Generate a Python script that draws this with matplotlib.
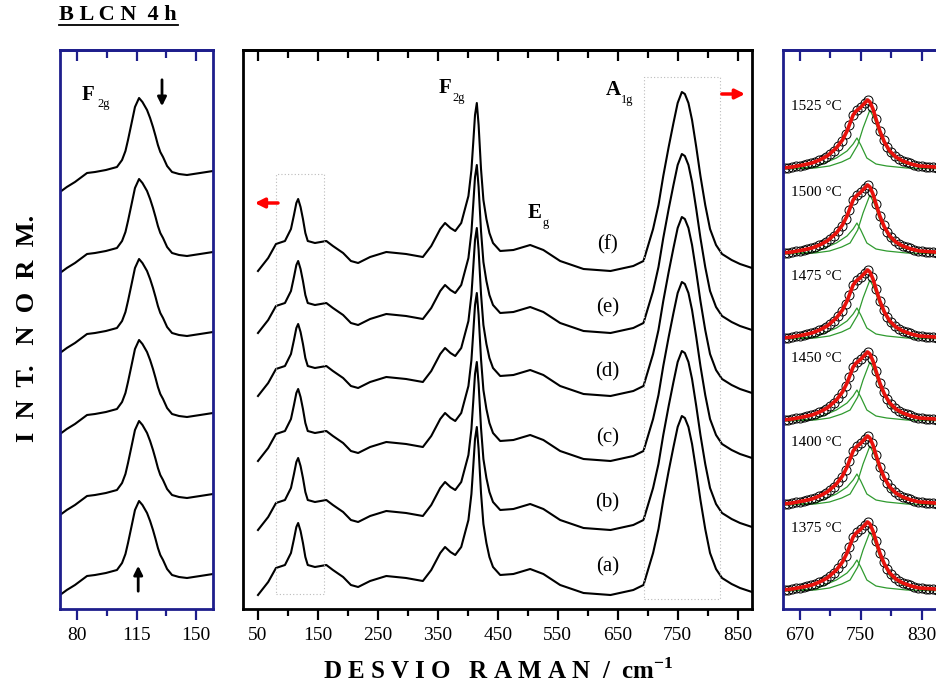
import matplotlib
matplotlib.use('Agg')
import matplotlib.pyplot as plt
from matplotlib.lines import Line2D
import numpy as np

plt.rcParams['font.family'] = 'Liberation Serif'
plt.rcParams['mathtext.fontset'] = 'custom'
plt.rcParams['mathtext.rm'] = 'Liberation Serif'
plt.rcParams['mathtext.bf'] = 'Liberation Serif:bold'

NAVY = '#1e1e8c'

# ---- data (heights in arbitrary normalized units) ----
# middle panel: one spectrum profile, stacked with offsets (a)..(f)
mid_shift = [50, 67, 80, 95, 105, 110, 114, 117, 121, 125, 129, 133, 145, 164, 175,
             192, 205, 217, 237, 264, 297, 325, 339, 354, 362, 371, 379, 389, 401,
             406, 409, 412, 415, 418, 422, 426, 431, 436, 442, 454, 476, 504, 526,
             554, 593, 638, 676, 693, 709, 718, 726, 735, 743, 750, 757, 762, 768,
             774, 781, 788, 796, 804, 814, 824, 840, 854, 874]
mid_int = [14, 27, 41, 44, 56, 70, 82, 86, 78, 66, 52, 44, 42, 44, 39,
           32, 24, 22, 28, 33, 31, 28, 39, 56, 62, 57, 54, 62, 89,
           115, 142, 170, 182, 160, 116, 85, 66, 52, 42, 34, 35, 40, 35,
           24, 16, 14, 19, 24, 56, 80, 109, 138, 162, 182, 193, 191, 182,
           165, 138, 109, 80, 56, 40, 31, 25, 21, 17]
mid_offsets = [0, 65, 134, 199, 262, 324]
mid_labels = ['(a)', '(b)', '(c)', '(d)', '(e)', '(f)']
mid_label_h = [42, 106, 171, 237, 301, 364]

# left panel: F2g region zoom
left_shift = [70, 74, 78.8, 85.9, 90.6, 97, 103.5, 106.5, 108.5, 110, 112, 114.1,
              116.5, 118.5, 121.2, 123, 124.7, 126.2, 127.6, 129, 130.6, 133, 135.9,
              140, 144.7, 152.4, 160]
left_int = [14, 19, 24, 33, 34, 36, 39, 46, 55, 66, 82, 99,
            108, 104, 96, 88, 79, 70, 61, 54, 49, 40, 34,
            32, 31, 33, 35]
left_offsets = [0, 80, 161, 242, 322, 403]

# right panel: A1g fits at each temperature
temps = ['1375 °C', '1400 °C', '1450 °C', '1475 °C', '1500 °C', '1525 °C']
right_offsets = [0, 86, 170, 252, 337, 422]
fit_shift = [648, 660, 674, 686, 696, 706, 718, 726, 732, 737, 740, 744, 749, 754,
             759, 762, 766, 770, 775, 781, 788, 796, 805, 816, 827, 847, 860]
fit_int = [19, 20, 22, 24, 27, 31, 39, 47, 56, 66, 72, 76, 79, 83,
           87, 85, 78, 68, 56, 45, 36, 30, 26, 23, 21, 20, 19]
comp1_shift = [648, 690, 718, 732, 740, 745, 750, 758, 770, 784, 810, 860]
comp1_int = [18, 20, 29, 36, 43, 49, 42, 29, 23, 21, 19, 18]
comp2_shift = [648, 690, 709, 725, 736, 746, 753, 762, 768, 775, 788, 805, 830, 860]
comp2_int = [18, 19, 21, 25, 29, 42, 59, 77, 68, 52, 33, 24, 20, 19]
pts_shift = [650, 655, 660, 665, 670, 675, 680, 685, 690, 695, 700, 705, 710, 715,
             720, 725, 730, 735, 740, 745, 750, 755, 760, 765, 770, 775, 780, 785,
             790, 795, 800, 805, 810, 815, 820, 825, 830, 835, 840, 845, 850, 855, 860]
pts_int = [19, 19.5, 20, 21, 21.5, 22, 23, 24, 25, 27, 28, 30, 33, 36,
           41, 46, 53, 62, 72, 77, 80, 84, 87, 80, 68, 56, 47, 40,
           35, 31, 28, 26, 25, 24, 22, 21.5, 21, 20.5, 20, 20, 19.5, 19, 19]

fig = plt.figure(figsize=(9.36, 6.88), dpi=100)
W, H = 936, 688


def add_panel(x0, x1, color, xlim, major, minor):
    ax = fig.add_axes([x0 / W, (H - 609) / H, (x1 - x0) / W, 559 / H])
    ax.set_xlim(xlim)
    ax.set_ylim(0, 559)
    ax.set_yticks([])
    for s in ax.spines.values():
        s.set_color(color)
        s.set_linewidth(2.0)
    ax.set_xticks(major)
    ax.set_xticks(minor, minor=True)
    ax.set_xticklabels([str(m) for m in major])
    ax.tick_params(axis='x', which='major', direction='out', length=8, width=1.6,
                   color=color, labelsize=14, pad=5)
    ax.tick_params(axis='x', which='minor', direction='out', length=5, width=1.6, color=color)
    top = ax.secondary_xaxis('top')
    top.set_xticks(major)
    top.set_xticks(minor, minor=True)
    top.tick_params(which='major', direction='in', length=8, width=1.6, color=color,
                    labeltop=False)
    top.tick_params(which='minor', direction='in', length=5.5, width=1.6, color=color)
    top.spines['top'].set_color(color)
    top.spines['top'].set_linewidth(2.0)
    return ax


# left panel
axL = add_panel(60, 213, NAVY, (70, 160), [80, 115, 150], [97.5, 132.5])
for off in left_offsets:
    axL.plot(left_shift, np.array(left_int) + off, color='black', lw=1.5)
axL.text(83, 514, 'F', fontsize=15, fontweight='bold', ha='left', va='center')
axL.text(92, 505, '2g', fontsize=9, ha='left', va='center')
axL.annotate('', xy=(130, 500), xytext=(130, 532),
             arrowprops=dict(arrowstyle='-|>', color='black', lw=2, mutation_scale=13))
axL.annotate('', xy=(116, 46), xytext=(116, 15),
             arrowprops=dict(arrowstyle='-|>', color='black', lw=2, mutation_scale=13))

# middle panel
axM = add_panel(243, 752, 'black', (25, 874), list(range(50, 851, 100)),
                list(range(100, 851, 100)))
for off, lab, lh in zip(mid_offsets, mid_labels, mid_label_h):
    axM.plot(mid_shift, np.array(mid_int) + off, color='black', lw=1.5)
    axM.text(633, lh, lab, fontsize=15, ha='center', va='center')
for (xa, xb, ya, yb) in [(80, 160, 15, 435), (694, 821, 10, 532)]:
    axM.plot([xa, xb, xb, xa, xa], [ya, ya, yb, yb, ya], color='#bbbbbb', lw=0.8,
             ls=(0, (1, 2)))
axM.text(352, 521, 'F', fontsize=15, fontweight='bold', ha='left', va='center')
axM.text(375, 511, '2g', fontsize=9, ha='left', va='center')
axM.text(630, 519, 'A', fontsize=15, fontweight='bold', ha='left', va='center')
axM.text(656, 509, '1g', fontsize=9, ha='left', va='center')
axM.text(500, 396, 'E', fontsize=15, fontweight='bold', ha='left', va='center')
axM.text(524, 386, 'g', fontsize=9, ha='left', va='center')
axM.annotate('', xy=(40, 406), xytext=(88, 406),
             arrowprops=dict(arrowstyle='-|>', color='red', lw=2.5, mutation_scale=14))
axM.annotate('', xy=(867, 515), xytext=(819, 515),
             arrowprops=dict(arrowstyle='-|>', color='red', lw=2.5, mutation_scale=14))

# right panel
axR = add_panel(783, 945, NAVY, (648, 860.5), [670, 750, 830], [710, 790])
for off, t in zip(right_offsets, temps):
    axR.plot(comp1_shift, np.array(comp1_int) + off, color='#2f9a2f', lw=0.9)
    axR.plot(comp2_shift, np.array(comp2_int) + off, color='#2f9a2f', lw=0.9)
    axR.plot(pts_shift, np.array(pts_int) + off, 'o', ms=6.5, mfc='none', mec='black',
             mew=0.7)
    axR.plot(fit_shift, np.array(fit_int) + off, color='#e8120c', lw=2.6)
    axR.text(658, 80 + off, t, fontsize=11, ha='left', va='center')

# titles and axis labels
fig.text(59 / W, 1 - 15 / H, 'B L C N  4 h', fontsize=16, fontweight='bold',
         ha='left', va='center')
fig.add_artist(Line2D([59 / W, 178 / W], [1 - 25 / H, 1 - 25 / H], color='black',
                      lw=1.3, transform=fig.transFigure))
fig.text(28 / W, 1 - 328 / H, 'I  N  T.   N  O  R  M.', fontsize=19, fontweight='bold',
         rotation=90, ha='center', va='center')
fig.text(498 / W, 1 - 671 / H, r'D E S V I O   R A M A N  /  cm$^{\mathbf{-1}}$',
         fontsize=18, fontweight='bold', ha='center', va='center')

fig.savefig('out.png', dpi=100)
